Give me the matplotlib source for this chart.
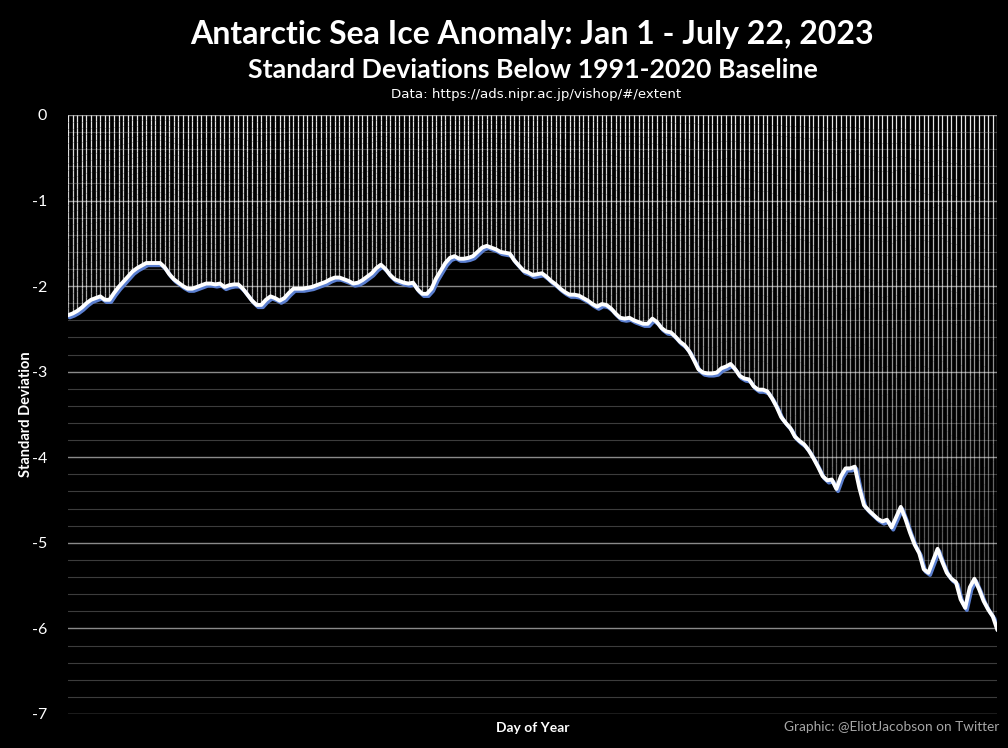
import numpy as np
import matplotlib
matplotlib.use("Agg")
import matplotlib.pyplot as plt
import matplotlib.patheffects as pe
from matplotlib.collections import LineCollection

# daily Antarctic sea ice anomaly (std devs vs 1991-2020), Jan 1 - Jul 22 2023
sd_values = [
    -2.34, -2.32, -2.29, -2.25, -2.20, -2.16, -2.14, -2.12, -2.16, -2.16,
    -2.08, -2.01, -1.95, -1.89, -1.83, -1.79, -1.76, -1.73, -1.73, -1.73,
    -1.73, -1.78, -1.86, -1.92, -1.96, -2.00, -2.03, -2.03, -2.01, -1.99,
    -1.97, -1.97, -1.98, -1.97, -2.01, -1.99, -1.98, -1.98, -2.03, -2.10,
    -2.17, -2.22, -2.22, -2.16, -2.12, -2.14, -2.17, -2.14, -2.08, -2.03,
    -2.03, -2.03, -2.02, -2.01, -1.99, -1.97, -1.95, -1.92, -1.90, -1.90,
    -1.92, -1.94, -1.97, -1.96, -1.93, -1.89, -1.85, -1.79, -1.75, -1.80,
    -1.87, -1.92, -1.94, -1.96, -1.97, -1.96, -2.04, -2.09, -2.09, -2.03,
    -1.91, -1.82, -1.73, -1.67, -1.65, -1.68, -1.68, -1.67, -1.65, -1.60,
    -1.55, -1.53, -1.55, -1.57, -1.60, -1.61, -1.62, -1.70, -1.76, -1.82,
    -1.84, -1.87, -1.86, -1.85, -1.89, -1.94, -1.98, -2.03, -2.07, -2.10,
    -2.10, -2.11, -2.14, -2.17, -2.21, -2.24, -2.21, -2.22, -2.26, -2.32,
    -2.37, -2.38, -2.37, -2.40, -2.42, -2.44, -2.44, -2.38, -2.42, -2.49,
    -2.53, -2.54, -2.59, -2.65, -2.69, -2.76, -2.86, -2.97, -3.01, -3.02,
    -3.02, -3.01, -2.96, -2.94, -2.91, -2.97, -3.05, -3.08, -3.09, -3.17,
    -3.21, -3.21, -3.23, -3.31, -3.41, -3.53, -3.60, -3.66, -3.76, -3.81,
    -3.85, -3.92, -4.01, -4.11, -4.22, -4.27, -4.26, -4.37, -4.22, -4.13,
    -4.13, -4.11, -4.36, -4.56, -4.62, -4.67, -4.72, -4.75, -4.73, -4.82,
    -4.70, -4.58, -4.72, -4.88, -5.02, -5.12, -5.31, -5.35, -5.21, -5.07,
    -5.22, -5.35, -5.42, -5.46, -5.66, -5.76, -5.52, -5.42, -5.54, -5.68,
    -5.78, -5.86, -6.02,
]
days = np.arange(1, len(sd_values) + 1)

title = "Antarctic Sea Ice Anomaly: Jan 1 - July 22, 2023"
subtitle = "Standard Deviations Below 1991-2020 Baseline"
source = "Data: https://ads.nipr.ac.jp/vishop/#/extent"
credit = "Graphic: @EliotJacobson on Twitter"

plt.rcParams['font.family'] = ['Lato', 'DejaVu Sans']
plt.rcParams['axes.unicode_minus'] = False

fig = plt.figure(figsize=(10.08, 7.48), dpi=100, facecolor='black')
ax = fig.add_axes([0.0675, 0.0455, 0.922, 0.8008])
ax.set_facecolor('black')

ax.set_xlim(1, days[-1])
ax.set_ylim(-7, 0)

# horizontal grid: minor every 0.2, major each integer
for y in np.arange(-7, 0.01, 0.2):
    major = abs(y - round(y)) < 1e-6
    ax.axhline(y, color='#8a8a8a' if major else '#3c3c3c',
               lw=1.0 if major else 0.8, zorder=1)

# one vertical line per day from 0 down to the value, fading with depth
segs, cols = [], []
for d, v in zip(days, sd_values):
    edges = np.linspace(0, v, 30)
    for a, b in zip(edges[:-1], edges[1:]):
        segs.append([(d, a), (d, b)])
        mid = (a + b) / 2
        level = max(0.35, 0.92 + mid * 0.12)
        cols.append((1, 1, 1, level))
ax.add_collection(LineCollection(segs, colors=cols, linewidths=0.9, zorder=2))

ax.plot(days, sd_values, color='white', lw=2.8, zorder=4,
        solid_capstyle='round', solid_joinstyle='round',
        path_effects=[pe.SimpleLineShadow(offset=(1.2, -1.6), shadow_color='#5b7fd0',
                                          alpha=1.0),
                      pe.Normal()])

for s in ax.spines.values():
    s.set_visible(False)
ax.set_xticks([])
ax.set_yticks(range(-7, 1))
ax.tick_params(axis='y', length=0, colors='white', labelsize=11.5, pad=15)

ax.set_xlabel("Day of Year", color='white', fontsize=10, fontweight='bold', labelpad=6)
ax.set_ylabel("Standard Deviation", color='white', fontsize=10.5, fontweight='bold',
              labelpad=-1)

fig.text(0.528, 0.954, title, color='white', fontsize=23, fontweight='bold',
         ha='center', va='center')
fig.text(0.529, 0.906, subtitle, color='white', fontsize=19.3, fontweight='bold',
         ha='center', va='center')
fig.text(0.532, 0.874, source, color='white', fontsize=9.6, ha='center', va='center',
         family='DejaVu Sans')
fig.text(0.991, 0.028, credit, color='#a6a6a6', fontsize=9.8, ha='right', va='center')

fig.savefig("out.png", dpi=100, facecolor='black')
